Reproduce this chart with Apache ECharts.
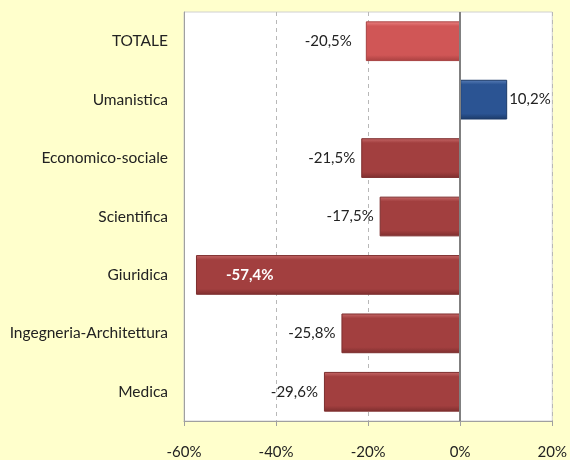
<!DOCTYPE html>
<html>
<head>
<meta charset="utf-8">
<script src="https://cdn.jsdelivr.net/npm/echarts@6/dist/echarts.min.js"></script>
<style>
  html, body { margin: 0; padding: 0; background: #ffffcc; }
  #chart { width: 570px; height: 460px; }
</style>
</head>
<body>
<div id="chart"></div>
<script>
// categories from bottom to top
const categories = ['Medica', 'Ingegneria-Architettura', 'Giuridica', 'Scientifica', 'Economico-sociale', 'Umanistica', 'TOTALE']
const values = [-29.6, -25.8, -57.4, -17.5, -21.5, 10.2, -20.5]
const tickValues = [-60, -40, -20, 0, 20]

const RED = ['#c86a6a', '#a23f3f', '#7d2e2e']
const RED_LIGHT = ['#ec8585', '#d05656', '#a84040']
const BLUE = ['#5a7fb8', '#2b5493', '#1c3a68']
const FONT = 'Lato'

// piccolo effetto "bevel" come in Excel
function bevel(c) {
  return new echarts.graphic.LinearGradient(0, 0, 0, 1, [
    { offset: 0, color: c[0] },
    { offset: 0.12, color: c[1] },
    { offset: 0.85, color: c[1] },
    { offset: 1, color: c[2] }
  ])
}

function pct(v) {
  return v.toFixed(1).replace('.', ',') + '%'
}

const seriesData = values.map((v, i) => {
  const name = categories[i]
  let c = v > 0 ? BLUE : RED
  if (name === 'TOTALE') c = RED_LIGHT
  const item = {
    value: v,
    itemStyle: { color: bevel(c), borderColor: c[2], borderWidth: 1 },
    label: { show: true, position: v > 0 ? 'right' : 'left', distance: v > 0 ? 2 : 6 }
  }
  if (name === 'Giuridica') {
    item.label = { show: true, position: 'insideLeft', distance: 30, color: '#ffffff', fontWeight: 'bold' }
  }
  if (name === 'TOTALE') item.label.distance = 14
  return item
})

const chart = echarts.init(document.getElementById('chart'))
chart.setOption({
  backgroundColor: '#ffffcc',
  animation: false,
  grid: {
    left: 184, right: 15, top: 12, bottom: 36,
    show: true, backgroundColor: '#ffffff', borderColor: '#d0d0d0', borderWidth: 1
  },
  xAxis: {
    type: 'value',
    min: tickValues[0],
    max: tickValues[tickValues.length - 1],
    interval: 20,
    axisLine: { show: true, onZero: false, lineStyle: { color: '#a0a0a0' } },
    axisTick: { show: true, length: 5, lineStyle: { color: '#a0a0a0' } },
    axisLabel: {
      margin: 24,
      color: '#222222',
      fontSize: 15,
      fontFamily: FONT,
      formatter: v => v + '%'
    },
    splitLine: { show: true, lineStyle: { color: '#b8b8b8', type: [4, 4] } }
  },
  yAxis: {
    type: 'category',
    data: categories,
    axisLine: { show: true, onZero: false, lineStyle: { color: '#a0a0a0' } },
    axisTick: { show: false },
    axisLabel: {
      margin: 16,
      color: '#222222',
      fontSize: 15.5,
      fontFamily: FONT
    }
  },
  series: [{
    type: 'bar',
    data: seriesData,
    barWidth: '68%',
    label: {
      fontSize: 15,
      fontFamily: FONT,
      color: '#222222',
      formatter: p => pct(p.value)
    },
    markLine: {
      silent: true,
      symbol: 'none',
      label: { show: false },
      lineStyle: { color: '#808080', type: 'solid', width: 2 },
      data: [{ xAxis: 0 }]
    }
  }]
})
</script>
</body>
</html>
